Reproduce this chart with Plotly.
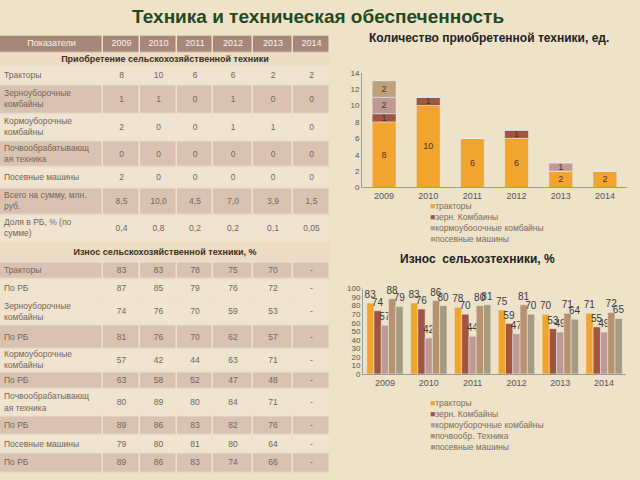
import plotly.graph_objects as go

# ---------------- data ----------------
years = ["2009", "2010", "2011", "2012", "2013", "2014"]
header_labels = ["Показатели"] + years

section1_title = "Приобретение сельскохозяйственной техники"
section2_title = "Износ сельскохозяйственной техники, %"

purchase_labels = ["Тракторы", "Зерноуборочные<br>комбайны", "Кормоуборочные<br>комбайны",
                   "Почвообрабатывающ<br>ая техника", "Посевные машины",
                   "Всего на сумму, млн.<br>руб.", "Доля в РБ, % (по<br>сумме)"]
purchase_tractors = ["8", "10", "6", "6", "2", "2"]
purchase_grain = ["1", "1", "0", "1", "0", "0"]
purchase_forage = ["2", "0", "0", "1", "1", "0"]
purchase_soil = ["0", "0", "0", "0", "0", "0"]
purchase_seed = ["2", "0", "0", "0", "0", "0"]
purchase_total = ["8,5", "10,0", "4,5", "7,0", "3,9", "1,5"]
purchase_share = ["0,4", "0,8", "0,2", "0,2", "0,1", "0,05"]

wear_labels = ["Тракторы", "По РБ", "Зерноуборочные<br>комбайны", "По РБ",
               "Кормоуборочные<br>комбайны", "По РБ", "Почвообрабатывающ<br>ая техника",
               "По РБ", "Посевные машины", "По РБ"]
wear_tractors = ["83", "83", "78", "75", "70", "-"]
wear_tractors_rb = ["87", "85", "79", "76", "72", "-"]
wear_grain = ["74", "76", "70", "59", "53", "-"]
wear_grain_rb = ["81", "76", "70", "62", "57", "-"]
wear_forage = ["57", "42", "44", "63", "71", "-"]
wear_forage_rb = ["63", "58", "52", "47", "48", "-"]
wear_soil = ["80", "89", "80", "84", "71", "-"]
wear_soil_rb = ["89", "86", "83", "82", "76", "-"]
wear_seed = ["79", "80", "81", "80", "64", "-"]
wear_seed_rb = ["89", "86", "83", "74", "66", "-"]

# chart 1: purchased machinery, units
c1_names = ["тракторы", "зерн. Комбаины", "кормоубооочные комбайны", "посевные машины"]
c1_tractors = [8, 10, 6, 6, 2, 2]
c1_grain = [1, 1, 0, 1, 0, 0]
c1_forage = [2, 0, 0, 0, 1, 0]
c1_seed = [2, 0, 0, 0, 0, 0]

# chart 2: wear, %
c2_names = ["тракторы", "зерн. Комбайны", "кормоуборочные комбайны", "почвообр. Техника", "посевные машины"]
c2_tractors = [83, 83, 78, 75, 70, 71]
c2_grain = [74, 76, 70, 59, 53, 55]
c2_forage = [57, 42, 44, 47, 49, 49]
c2_soil = [88, 86, 80, 81, 71, 72]
c2_seed = [79, 80, 81, 70, 64, 65]

# ---------------- styles / layout ----------------
BG = "#eee2c9"
HEAD = "#a8877b"
LIGHT = "#efe4cf"
DARK = "#d9c2b1"
SECT = "#ebdcc3"
TXT = "#74655a"
FONT = "Liberation Sans, Arial, sans-serif"

C_TR = "#f2a52e"
C_GR = "#a1543f"
C_FO = "#bf9993"
C_SO = "#b8926c"
C_SE1 = "#bca17d"
C_SE2 = "#a49b80"

# table geometry (pixel units of the table's own axes)
col_edges = [0, 103, 140, 177, 213, 253, 293, 330]
row_edges = [32, 50, 64, 83, 112, 140, 167, 188, 215, 243, 263,
             281, 300, 328, 352, 375, 393, 420, 440, 458, 478]
fill1 = ["L", "D", "L", "D", "L", "D", "L"]
fill2 = ["D", "L", "L", "D", "L", "D", "L", "D", "L", "D"]


def py(px):
    return 1 - px / 480


rows1 = [purchase_tractors, purchase_grain, purchase_forage, purchase_soil,
         purchase_seed, purchase_total, purchase_share]
rows2 = [wear_tractors, wear_tractors_rb, wear_grain, wear_grain_rb, wear_forage,
         wear_forage_rb, wear_soil, wear_soil_rb, wear_seed, wear_seed_rb]

kinds = ["H", "S"] + fill1 + ["S"] + fill2
labels = [None, section1_title] + purchase_labels + [section2_title] + wear_labels
values = [None, None] + rows1 + [None] + rows2

col_c = [(a + b) / 2 for a, b in zip(col_edges[:-1], col_edges[1:])]
row_c = [(a + b) / 2 for a, b in zip(row_edges[:-1], row_edges[1:])]
kind_z = {"H": 0, "L": 1, "D": 2}

fig = go.Figure()

# table cells (heatmap with explicit cell edges)
fig.add_trace(go.Heatmap(
    x=col_edges, y=row_edges,
    z=[[kind_z.get(k)] * 7 if k != "S" else [None] * 7 for k in kinds],
    colorscale=[[0, HEAD], [0.5, LIGHT], [1, DARK]], zmin=0, zmax=2,
    xgap=1.5, ygap=1.5, showscale=False, hoverinfo="skip", xaxis="x3", yaxis="y3"))
# merged section rows
fig.add_trace(go.Heatmap(
    x=[col_edges[0], col_edges[-1]], y=row_edges,
    z=[[1] if k == "S" else [None] for k in kinds],
    colorscale=[[0, SECT], [1, SECT]], ygap=1.5, showscale=False, hoverinfo="skip",
    xaxis="x3", yaxis="y3"))

# header texts
fig.add_trace(go.Scatter(
    x=col_c, y=[row_c[0]] * 7, text=header_labels, mode="text", hoverinfo="skip",
    textfont=dict(size=9, color="#f8f1ea", family=FONT), xaxis="x3", yaxis="y3", showlegend=False))
# section titles
sec_idx = [i for i, k in enumerate(kinds) if k == "S"]
fig.add_trace(go.Scatter(
    x=[col_edges[-1] / 2] * len(sec_idx), y=[row_c[i] for i in sec_idx],
    text=["<b>" + labels[i] + "</b>" for i in sec_idx], mode="text", hoverinfo="skip",
    textfont=dict(size=9, color="#3d2f25", family=FONT), xaxis="x3", yaxis="y3", showlegend=False))
# row labels
data_idx = [i for i, k in enumerate(kinds) if k in ("L", "D")]
fig.add_trace(go.Scatter(
    x=[col_edges[0] + 4] * len(data_idx), y=[row_c[i] for i in data_idx],
    text=[labels[i] for i in data_idx], mode="text", textposition="middle right",
    hoverinfo="skip", textfont=dict(size=8.5, color=TXT, family=FONT),
    xaxis="x3", yaxis="y3", showlegend=False))
# values
vx, vy, vt = [], [], []
for i in data_idx:
    for j, v in enumerate(values[i]):
        vx.append(col_c[j + 1])
        vy.append(row_c[i])
        vt.append(v)
fig.add_trace(go.Scatter(
    x=vx, y=vy, text=vt, mode="text", hoverinfo="skip",
    textfont=dict(size=8.5, color=TXT, family=FONT),
    xaxis="x3", yaxis="y3", showlegend=False))

# chart 1: stacked bars
for vals, name, col in zip([c1_tractors, c1_grain, c1_forage, c1_seed], c1_names,
                           [C_TR, C_GR, C_FO, C_SE1]):
    fig.add_trace(go.Bar(
        x=years, y=vals, name=name, marker_color=col, xaxis="x", yaxis="y", width=0.54,
        text=[str(v) if v else "" for v in vals], textposition="inside", textangle=0,
        insidetextanchor="middle", constraintext="none",
        textfont=dict(size=9, color="#4a3424", family=FONT), showlegend=False))

# chart 2: grouped bars
for vals, name, col in zip([c2_tractors, c2_grain, c2_forage, c2_soil, c2_seed], c2_names,
                           [C_TR, C_GR, C_FO, C_SO, C_SE2]):
    fig.add_trace(go.Bar(
        x=years, y=vals, name=name, marker_color=col, xaxis="x2", yaxis="y2",
        text=[str(v) for v in vals], textposition="outside", constraintext="none",
        cliponaxis=False, offsetgroup=name, textangle=0,
        textfont=dict(size=10, color="#3a3a3a", family=FONT), showlegend=False))

axis_common = dict(showline=True, linecolor="#9a9a9a", linewidth=1, showgrid=False,
                   zeroline=False, ticks="", tickfont=dict(size=8, color="#555555", family=FONT))
xfont = dict(size=9, color="#555555", family=FONT)

legend1 = "<br>".join(f"<span style='color:{c}'>■</span>{n}"
                      for n, c in zip(c1_names, [C_TR, C_GR, C_FO, C_SE1]))
legend2 = "<br>".join(f"<span style='color:{c}'>■</span>{n}"
                      for n, c in zip(c2_names, [C_TR, C_GR, C_FO, C_SO, C_SE2]))

fig.update_layout(
    width=640, height=480,
    margin=dict(l=0, r=0, t=0, b=0),
    paper_bgcolor=BG, plot_bgcolor="rgba(0,0,0,0)",
    barmode="relative",
    bargap=0.17, bargroupgap=0,
    font=dict(family=FONT),
    title=dict(text="<b>Техника и техническая обеспеченность</b>", x=0.497, xanchor="center",
               y=py(16), yanchor="middle", font=dict(size=19, color="#1f4a22", family=FONT)),
    xaxis=dict(domain=[362 / 640, 627 / 640], anchor="y", **{**axis_common, "tickfont": xfont}),
    yaxis=dict(domain=[py(187), py(70)], anchor="x", range=[0, 14], dtick=2, **axis_common),
    xaxis2=dict(domain=[363 / 640, 626 / 640], anchor="y2", **{**axis_common, "tickfont": xfont}),
    yaxis2=dict(domain=[py(377), py(290)], anchor="x2", range=[0, 100], dtick=10, **axis_common),
    xaxis3=dict(domain=[col_edges[0] / 640, col_edges[-1] / 640], range=[col_edges[0], col_edges[-1]],
                visible=False, anchor="y3", fixedrange=True),
    yaxis3=dict(domain=[py(row_edges[-1]), py(row_edges[0])], range=[row_edges[-1], row_edges[0]],
                visible=False, anchor="x3", fixedrange=True),
    annotations=[
        dict(text="<b>Количество приобретенной техники, ед.</b>", x=489 / 640, y=py(35),
             xref="paper", yref="paper", showarrow=False, xanchor="center", yanchor="middle",
             font=dict(size=12, color="#222222", family=FONT)),
        dict(text="<b>Износ  сельхозтехники, %</b>", x=477 / 640, y=py(260),
             xref="paper", yref="paper", showarrow=False, xanchor="center", yanchor="middle",
             font=dict(size=12, color="#222222", family=FONT)),
        dict(text=legend1, x=428 / 640, y=py(199), xref="paper", yref="paper", showarrow=False,
             xanchor="left", yanchor="top", align="left",
             font=dict(size=8.5, color="#7a6d63", family=FONT)),
        dict(text=legend2, x=428 / 640, y=py(399), xref="paper", yref="paper", showarrow=False,
             xanchor="left", yanchor="top", align="left",
             font=dict(size=8.5, color="#7a6d63", family=FONT)),
    ],
)

fig.write_html("out.html", config={"displayModeBar": False},
               post_script="document.body.style.margin='0px';")
